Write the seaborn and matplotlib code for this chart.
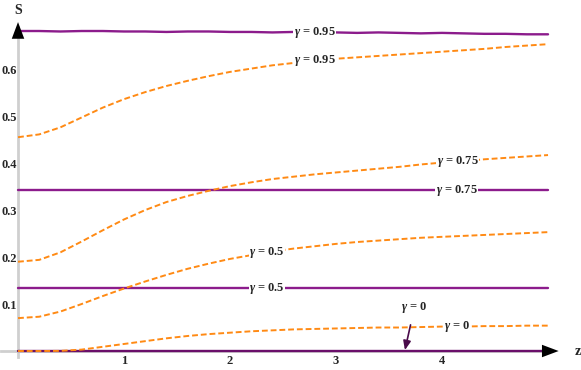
import numpy as np
import pandas as pd
import seaborn as sns
import matplotlib.pyplot as plt
from matplotlib.ticker import MultipleLocator

sns.set_style("white")
plt.rcParams['font.family'] = ['Liberation Serif', 'DejaVu Serif']
plt.rcParams['font.weight'] = 'bold'
plt.rcParams['mathtext.fontset'] = 'custom'
plt.rcParams['mathtext.it'] = 'Liberation Serif:italic:bold'
plt.rcParams['mathtext.rm'] = 'Liberation Serif:bold'

# ---- data ----
z = [0.0, 0.2, 0.4, 0.6, 0.8, 1.0, 1.2, 1.4, 1.6, 1.8, 2.0, 2.2, 2.4,
     2.6, 2.8, 3.0, 3.2, 3.4, 3.6, 3.8, 4.0, 4.2, 4.4, 4.6, 4.8, 5.0]

# dashed (orange) curves
s_dash_095 = [0.455, 0.461, 0.476, 0.497, 0.518, 0.536, 0.551, 0.564, 0.575, 0.585, 0.594, 0.601, 0.608,
              0.613, 0.618, 0.622, 0.625, 0.628, 0.631, 0.634, 0.637, 0.640, 0.643, 0.647, 0.650, 0.653]
s_dash_075 = [0.190, 0.194, 0.210, 0.233, 0.257, 0.280, 0.300, 0.317, 0.330, 0.341, 0.351, 0.359, 0.366,
              0.371, 0.376, 0.380, 0.384, 0.388, 0.392, 0.397, 0.401, 0.404, 0.408, 0.411, 0.414, 0.417]
s_dash_050 = [0.070, 0.073, 0.084, 0.100, 0.117, 0.133, 0.148, 0.162, 0.175, 0.186, 0.196, 0.204, 0.212,
              0.218, 0.223, 0.228, 0.232, 0.235, 0.238, 0.241, 0.243, 0.245, 0.247, 0.249, 0.251, 0.253]
s_dash_000 = [0.000, 0.000, 0.0003, 0.003, 0.009, 0.015, 0.021, 0.027, 0.032, 0.036, 0.039, 0.042, 0.044,
              0.046, 0.047, 0.048, 0.049, 0.050, 0.050, 0.051, 0.052, 0.052, 0.053, 0.053, 0.054, 0.054]

# solid (purple) lines
s_solid_095 = [0.681, 0.681, 0.680, 0.681, 0.681, 0.680, 0.680, 0.679, 0.680, 0.680, 0.679, 0.679, 0.678,
               0.679, 0.678, 0.678, 0.677, 0.678, 0.677, 0.676, 0.677, 0.676, 0.675, 0.675, 0.674, 0.674]
s_solid_075 = [0.3426] * len(z)
s_solid_050 = [0.134] * len(z)
s_solid_000 = [0.0] * len(z)

labels = [r"$\gamma$ = 0.95", r"$\gamma$ = 0.75", r"$\gamma$ = 0.5", r"$\gamma$ = 0"]
dash_series = [s_dash_095, s_dash_075, s_dash_050, s_dash_000]
solid_series = [s_solid_095, s_solid_075, s_solid_050, s_solid_000]

# label positions (along z) for inline labels
dash_label_z = [2.80, 4.15, 2.35, 4.14]
solid_label_z = [2.80, 4.14, 2.35, None]

yticks = [0.1, 0.2, 0.3, 0.4, 0.5, 0.6]
xticks = [1, 2, 3, 4]

rows = []
for lab, d, s in zip(labels, dash_series, solid_series):
    for zi, di, si in zip(z, d, s):
        rows.append(dict(z=zi, S=di, gamma=lab, kind="dash"))
        rows.append(dict(z=zi, S=si, gamma=lab, kind="solid"))
df = pd.DataFrame(rows)

ORANGE = "#ff8a14"
PURPLE = "#8c1c8c"

fig = plt.figure(figsize=(5.81, 3.70), dpi=100)
ax = fig.add_axes([0, 0, 1, 1])

for i, lab in enumerate(labels):
    sub = df[(df.gamma == lab) & (df.kind == "solid")]
    col = "#6a0f6a" if i == 3 else PURPLE
    sns.lineplot(data=sub, x="z", y="S", ax=ax, color=col, lw=1.7, zorder=3)
for lab in labels:
    sub = df[(df.gamma == lab) & (df.kind == "dash")]
    sns.lineplot(data=sub, x="z", y="S", ax=ax, color=ORANGE, lw=1.4, zorder=4)
    ax.lines[-1].set_dashes((3.0, 1.5))

ax.set_xlim(-0.17, 5.311)
ax.set_ylim(-0.0404, 0.747)
ax.set_xlabel("")
ax.set_ylabel("")

# axes (Mathematica style)
for sp in ["top", "right"]:
    ax.spines[sp].set_visible(False)
ax.spines["left"].set_position(("data", 0))
ax.spines["bottom"].set_position(("data", 0))
ax.spines["left"].set_bounds(-0.012, 0.69)
ax.spines["bottom"].set_bounds(-0.16, 4.96)
for sp in ["left", "bottom"]:
    ax.spines[sp].set_color("#cfcfcf")
    ax.spines[sp].set_linewidth(2)
    ax.spines[sp].set_zorder(1)

ax.set_xticks(xticks)
ax.set_yticks(yticks)
ax.xaxis.set_minor_locator(MultipleLocator(0.2))
ax.yaxis.set_minor_locator(MultipleLocator(0.02))
ax.tick_params(axis="both", which="major", direction="in", length=4, width=0.8,
               color="#9a9a9a", labelsize=9)
ax.tick_params(axis="both", which="minor", direction="in", length=2.5, width=0.6,
               color="#b0b0b0")
ax.tick_params(axis="x", pad=3)
ax.tick_params(axis="y", pad=0.8)
for t in ax.get_xticklabels() + ax.get_yticklabels():
    t.set_fontweight("bold")

# arrow heads
ax.annotate("", xy=(5.10, 0), xytext=(4.95, 0),
            arrowprops=dict(arrowstyle="-|>,head_length=1.2,head_width=0.45",
                            color="black", lw=0, shrinkA=0, shrinkB=0), zorder=6)
ax.annotate("", xy=(0, 0.70), xytext=(0, 0.668),
            arrowprops=dict(arrowstyle="-|>,head_length=1.2,head_width=0.45",
                            color="black", lw=0, shrinkA=0, shrinkB=0), zorder=6)

ax.text(0.0, 0.725, "S", fontsize=10, fontweight="bold", ha="center", va="center")
ax.text(5.28, 0.0, "z", fontsize=10, fontweight="bold", ha="center", va="center")

box = dict(facecolor="white", edgecolor="none", pad=0.4)
for lab, d, zl in zip(labels, dash_series, dash_label_z):
    ax.text(zl, np.interp(zl, z, d), lab, fontsize=9, fontweight="bold",
            ha="center", va="center", bbox=box, zorder=7)
for lab, s, zl in zip(labels, solid_series, solid_label_z):
    if zl is None:
        continue
    ax.text(zl, np.interp(zl, z, s), lab, fontsize=9, fontweight="bold",
            ha="center", va="center", bbox=box, zorder=7)

# gamma = 0 solid label with arrow
ax.annotate(labels[3], xy=(3.65, 0.002), xytext=(3.74, 0.093),
            fontsize=9, fontweight="bold", ha="center", va="center",
            arrowprops=dict(arrowstyle="-|>,head_length=0.6,head_width=0.25",
                            color="#4a0a4a", lw=1.2, shrinkA=5, shrinkB=0),
            zorder=7)

fig.savefig("out.png", dpi=100)
